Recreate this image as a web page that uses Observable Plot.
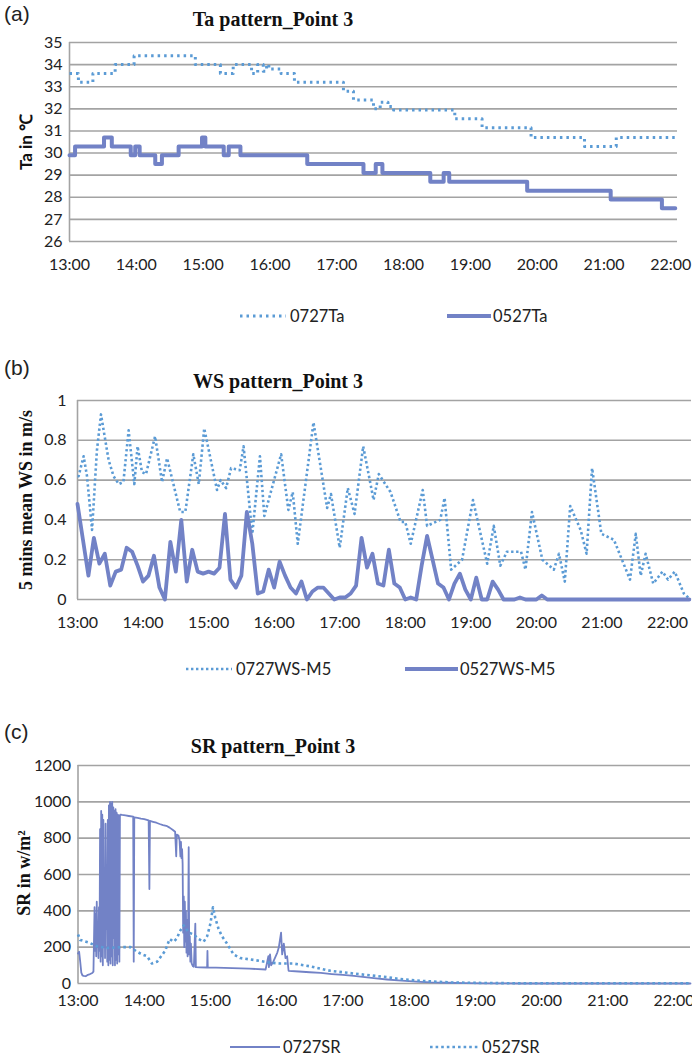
<!DOCTYPE html>
<html><head><meta charset="utf-8">
<script src="https://cdn.jsdelivr.net/npm/d3@7"></script>
<script src="https://cdn.jsdelivr.net/npm/@observablehq/plot@0.6"></script>
<style>
html,body{margin:0;padding:0;background:#fff;}
body{width:692px;height:1057px;position:relative;overflow:hidden;font-family:Lato,"Liberation Sans",sans-serif;color:#222;}
.p{position:absolute;left:0;}
.t{position:absolute;white-space:nowrap;line-height:1;}
</style>
</head><body>
<script>
// ---------- shared axis ticks ----------
const hourTicks = [0, 60, 120, 180, 240, 300, 360, 420, 480, 540];
const hourLabels = ["13:00","14:00","15:00","16:00","17:00","18:00","19:00","20:00","21:00","22:00"];

// ---------- (a) Ta ----------
const taTicks = [26,27,28,29,30,31,32,33,34,35];
const ta0727Min = [0,8,21,41,58,113,135.5,147,163.5,169,174,177,179,190,202,246,255,273,279,286,291,346,370.5,414.5,462.5,491,544];
const ta0727Val = [33.6,33.2,33.6,34.0,34.4,34.0,33.6,34.0,33.6,34.0,33.7,34.0,33.8,33.6,33.2,32.8,32.4,32.0,32.3,32.1,31.95,31.55,31.15,30.7,30.3,30.7,30.7];
const ta0527Min = [0,5,31,38,55,59,63,77,83,98,119,122,138.5,143,153.5,213.5,264,275,281,324,336,341,411,486,532,544];
const ta0527Val = [29.9,30.3,30.7,30.3,29.9,30.3,29.9,29.5,29.9,30.3,30.7,30.3,29.9,30.3,29.9,29.5,29.1,29.5,29.1,28.7,29.1,28.7,28.3,27.9,27.5,27.5];

// ---------- (b) WS ----------
const wsTicks = [0,0.2,0.4,0.6,0.8,1];
const ws0727Min = [0,1,5.6,8.7,13.3,17.8,21.5,28.5,33,37.7,42,46.8,52,55,59,62.7,71,77.4,82,94,98.7,106,111,116,127.7,131,136,140.6,148.5,152,160,167,171,186.4,193,197,201.6,216,228.5,232,240,247.4,253.6,261.5,271,275.8,286.5,295.7,300,305,316,320,332,336,342,352,362,375,381,387,393,406,410,416,425.5,436,440.7,446,451,460.5,466,471,479.5,491,505.7,511,515.5,520,527,535.4,540.5,546.7,555,561];
const ws0727Val = [0.62,0.62,0.72,0.62,0.35,0.75,0.93,0.70,0.62,0.58,0.59,0.85,0.58,0.77,0.64,0.63,0.82,0.59,0.71,0.44,0.44,0.73,0.58,0.86,0.55,0.60,0.56,0.66,0.65,0.77,0.33,0.72,0.42,0.73,0.45,0.54,0.28,0.89,0.46,0.53,0.26,0.56,0.43,0.77,0.50,0.63,0.54,0.39,0.39,0.28,0.55,0.37,0.40,0.51,0.15,0.20,0.50,0.18,0.37,0.17,0.24,0.24,0.15,0.44,0.20,0.15,0.23,0.09,0.47,0.35,0.23,0.66,0.33,0.30,0.10,0.33,0.12,0.23,0.08,0.14,0.10,0.14,0.03,0.00];
// 5-minute means, one value every 5 minutes from 13:00
const ws0527Val = [0.48,0.30,0.12,0.31,0.18,0.23,0.07,0.14,0.15,0.26,
  0.24,0.17,0.09,0.12,0.22,0.06,0.00,0.29,0.14,0.40,
  0.09,0.25,0.14,0.13,0.14,0.13,0.16,0.43,0.10,0.06,
  0.12,0.44,0.28,0.03,0.04,0.15,0.06,0.19,0.12,0.06,
  0.03,0.09,0.00,0.04,0.06,0.06,0.03,0.00,0.01,0.01,
  0.03,0.07,0.31,0.16,0.23,0.08,0.07,0.25,0.08,0.06,
  0.00,0.01,0.00,0.17,0.32,0.20,0.08,0.06,0.00,0.08,
  0.13,0.05,0.00,0.11,0.00,0.00,0.09,0.05,0.00,0.00,
  0.00,0.01,0.00,0.00,0.00,0.02,0.00,0.00,0.00,0.00,
  0.00,0.00,0.00,0.00,0.00,0.00,0.00,0.00,0.00,0.00,
  0.00,0.00,0.00,0.00,0.00,0.00,0.00,0.00,0.00,0.00,
  0.00,0.00,0.00];

// ---------- (c) SR ----------
const srTicks = [0,200,400,600,800,1000,1200];
const sr0727Min = [0,1,2,3,4,5,7,9,11,13,14,
  15,15.5,16,16.5,17,17.5,18,18.5,19,19.5,20,20.5,21,21.5,22,22.5,23,23.5,24,24.5,25,25.5,26,26.5,27,27.5,28,28.5,29,29.5,30,30.5,31,31.5,32,32.5,33,33.5,34,34.5,35,35.5,36,36.5,37,37.5,38,38.5,
  40,43,46,50,50.5,51,54,57,60,64,64.7,65.2,68,71,74,77,80,83,86,88,89,89.5,91,92,92.8,93.3,93.8,94.3,94.8,95.3,95.8,96.3,96.8,97.3,97.8,98.3,98.8,99.3,99.8,100.3,100.8,101.3,101.8,102.3,103,104.2,105,106.3,106.8,110,117,117.3,117.6,125,140,155,170,
  172.5,173,174,175,177,180.6,182,184,185,186.5,188,189.5,190.8,200,210,220,230,240,250,260,270,280,290,300,310,320,335,350,370,400,555];
const sr0727Val = [165,175,120,60,45,42,40,48,52,58,65,
  420,180,380,150,450,200,300,140,420,180,850,120,950,150,930,100,900,200,600,140,880,300,560,120,900,100,980,130,1000,110,990,150,1000,100,970,250,950,100,960,130,940,110,930,160,925,120,925,930,
  928,925,922,918,120,915,912,908,905,898,520,895,890,885,878,872,868,858,845,835,700,820,815,790,700,780,690,740,660,280,480,200,450,230,400,170,350,150,300,750,160,260,120,220,110,95,92,330,90,89,88,180,88,87,85,82,77,
  150,90,160,100,120,170,200,280,160,220,140,150,70,66,62,58,52,47,42,35,28,22,17,13,9,6,4,2,1,0,0];
const sr0527Min = [0,2,10,17,26,38.5,47.5,53.5,58,62.6,67,71.7,75.3,79,83,86.7,89.8,92,95.8,100.3,104.8,109.3,113.9,117,120,122.3,124.4,127.4,130.5,135,138,141,147,159,174,183,195,210,228.5,249.6,280,292,310,337,355,380,420,555];
const sr0527Val = [270,240,225,205,195,200,200,175,160,150,110,120,150,180,245,230,250,285,320,280,270,245,230,260,330,420,360,300,260,220,190,160,140,130,115,110,110,95,70,55,35,24,15,6,4,2,1,1];

// ---------- styling ----------
const gridColor = "#a3a3a3";
const light = "#5b9bd5";
const dark = "#7282c6";
const hourFmt = d => hourLabels[hourTicks.indexOf(d)];
const rows = (m, v) => m.map((t, i) => ({t, v: v[i]}));

const ta0727 = rows(ta0727Min, ta0727Val);
const ta0527 = rows(ta0527Min, ta0527Val);
const ws0727 = rows(ws0727Min, ws0727Val);
const ws0527 = ws0527Val.map((v, i) => ({t: i * 5, v}));
const sr0727 = rows(sr0727Min, sr0727Val);
const sr0527 = rows(sr0527Min, sr0527Val);

const baseStyle = {fontFamily: "Lato, sans-serif", fontSize: "16px", color: "#222", background: "none", overflow: "visible"};

function place(el, top) { el.classList.add("p"); el.style.top = top + "px"; document.body.appendChild(el); }

// Panel (a)
place(Plot.plot({
  width: 692, height: 255,
  marginLeft: 69, marginRight: 15, marginTop: 12, marginBottom: 44,
  style: baseStyle,
  x: {domain: [0, 546], ticks: hourTicks, tickFormat: hourFmt, tickSize: 0, tickPadding: 17, label: null},
  y: {domain: [26, 35], ticks: taTicks, tickSize: 0, tickPadding: 7, label: null},
  marks: [
    Plot.gridY(taTicks, {stroke: gridColor, strokeOpacity: 1, strokeWidth: 1.6}),
    Plot.ruleX([0], {stroke: gridColor, strokeWidth: 1.6}),
    Plot.line(ta0727, {x: "t", y: "v", curve: "step-after", stroke: light, strokeWidth: 3, strokeDasharray: "2.5,4", strokeLinecap: "butt"}),
    Plot.line(ta0527, {x: "t", y: "v", curve: "step-after", stroke: dark, strokeWidth: 4})
  ]
}), 30);

// Panel (b)
place(Plot.plot({
  width: 692, height: 260,
  marginLeft: 77, marginRight: 1, marginTop: 15, marginBottom: 46,
  style: baseStyle,
  x: {domain: [0, 562], ticks: hourTicks, tickFormat: hourFmt, tickSize: 0, tickPadding: 17, label: null},
  y: {domain: [0, 1], ticks: wsTicks, tickFormat: d => (d === 0 || d === 1) ? String(d) : d.toFixed(1), tickSize: 0, tickPadding: 11, label: null},
  marks: [
    Plot.gridY(wsTicks, {stroke: gridColor, strokeOpacity: 1, strokeWidth: 1.6}),
    Plot.ruleX([0], {stroke: gridColor, strokeWidth: 1.6}),
    Plot.line(ws0727, {x: "t", y: "v", stroke: light, strokeWidth: 2.6, strokeDasharray: "2.4,2.6", strokeLinecap: "butt"}),
    Plot.line(ws0527, {x: "t", y: "v", stroke: dark, strokeWidth: 3.8})
  ]
}), 385);

// Panel (c)
place(Plot.plot({
  width: 692, height: 270,
  marginLeft: 77.5, marginRight: 2, marginTop: 15, marginBottom: 37,
  style: baseStyle,
  x: {domain: [0, 555], ticks: hourTicks, tickFormat: hourFmt, tickSize: 0, tickPadding: 11, label: null},
  y: {domain: [0, 1200], ticks: srTicks, tickFormat: d => String(d), tickSize: 0, tickPadding: 7, label: null},
  marks: [
    Plot.gridY(srTicks, {stroke: gridColor, strokeOpacity: 1, strokeWidth: 1.6}),
    Plot.ruleX([0], {stroke: gridColor, strokeWidth: 1.6}),
    Plot.line(sr0727, {x: "t", y: "v", stroke: dark, strokeWidth: 1.8}),
    Plot.line(sr0527, {x: "t", y: "v", stroke: light, strokeWidth: 2.6, strokeDasharray: "2.6,3", strokeLinecap: "butt"})
  ]
}), 750);

// ---------- texts ----------
function text(txt, x, y, css, anchor = "middle", rotate = false) {
  const d = document.createElement("div");
  d.className = "t";
  d.textContent = txt;
  d.style.cssText += `left:${x}px;top:${y}px;` + css;
  const tx = anchor === "middle" ? "-50%" : anchor === "end" ? "-100%" : "0";
  d.style.transform = `translate(${tx},-50%)` + (rotate ? " rotate(-90deg)" : "");
  document.body.appendChild(d);
  return d;
}
const panelCss = "font-family:'Liberation Sans',Arial,sans-serif;font-size:21px;";
const titleCss = "font-family:'Liberation Serif','Times New Roman',serif;font-weight:bold;font-size:20px;color:#111;";
const ylabSerif = "font-family:'Liberation Serif','Times New Roman',serif;font-weight:bold;font-size:18px;color:#111;";
const ylabSans = "font-family:Lato,sans-serif;font-weight:bold;font-size:17px;color:#111;";

text("(a)", 4, 13, panelCss, "start");
text("Ta pattern_Point 3", 273, 19, titleCss);
text("Ta in ℃", 25, 142, ylabSans, "middle", true);

text("(b)", 4, 367, panelCss, "start");
text("WS pattern_Point 3", 278, 381, titleCss);
text("5 mins mean WS in m/s", 26, 500, ylabSerif, "middle", true);

text("(c)", 4, 731, panelCss, "start");
text("SR pattern_Point 3", 273, 746, titleCss);
text("SR in w/m²", 24, 873, ylabSerif, "middle", true);

// ---------- legends ----------
function swatch(x, y, len, color, width, dash) {
  const ns = "http://www.w3.org/2000/svg";
  const s = document.createElementNS(ns, "svg");
  s.setAttribute("width", len); s.setAttribute("height", 10);
  s.style.cssText = `position:absolute;left:${x}px;top:${y - 5}px;overflow:visible;`;
  const l = document.createElementNS(ns, "line");
  l.setAttribute("x1", 0); l.setAttribute("x2", len); l.setAttribute("y1", 5); l.setAttribute("y2", 5);
  l.setAttribute("stroke", color); l.setAttribute("stroke-width", width);
  if (dash) l.setAttribute("stroke-dasharray", dash);
  s.appendChild(l);
  document.body.appendChild(s);
}
const legCss = "font-family:Lato,sans-serif;font-size:16.5px;color:#222;";
swatch(240, 316, 46, light, 3, "2.5,4"); text("0727Ta", 290, 316, legCss, "start");
swatch(447, 316, 44, dark, 4); text("0527Ta", 493, 316, legCss, "start");

swatch(186, 669, 46, light, 2.6, "2.4,2.6"); text("0727WS-M5", 236, 669, legCss, "start");
swatch(405, 669, 53, dark, 3.8); text("0527WS-M5", 460, 669, legCss, "start");

swatch(230, 1047, 50, dark, 1.8); text("0727SR", 283, 1047, legCss, "start");
swatch(430, 1047, 48, light, 2.6, "2.6,3"); text("0527SR", 482, 1047, legCss, "start");
</script>
</body></html>
